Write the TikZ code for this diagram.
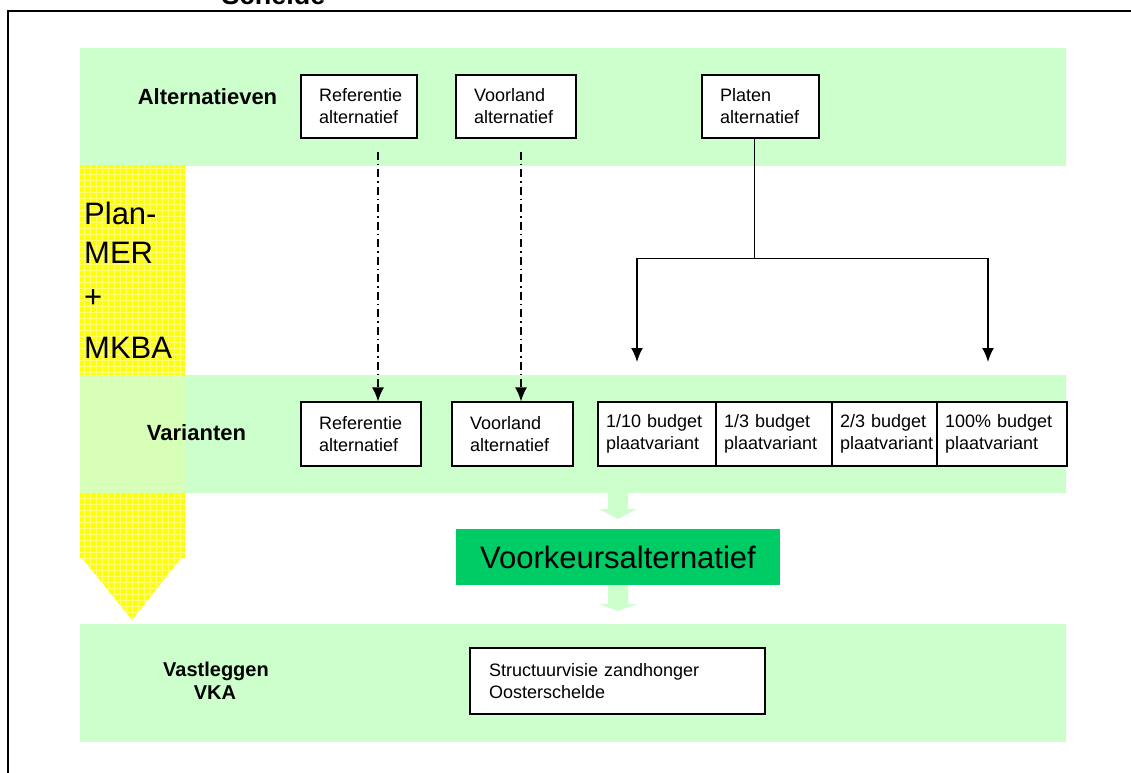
\documentclass[tikz,border=0pt]{standalone}
\usepackage{fontspec}
\setmainfont{Liberation Sans}
\usetikzlibrary{arrows.meta, positioning}

\definecolor{bandgreen}{HTML}{CCFFCC}
\definecolor{overlapgreen}{HTML}{D8FFB8}
\definecolor{vkagreen}{HTML}{00CC66}
\definecolor{planyellow}{HTML}{FFFF00}
\definecolor{gridyellow}{HTML}{FFFF70}

\begin{document}
\begin{tikzpicture}[x=1pt, y=-1pt,
    box/.style={draw, fill=white, line width=1.1pt, align=left,
      font=\fontsize{18}{22}\selectfont, inner xsep=18pt, inner ysep=0pt,
      minimum height=63pt},
    platebox/.style={box, inner xsep=8pt, minimum height=64pt},
    rowlabel/.style={font=\bfseries\fontsize{22}{24}\selectfont, align=center, inner sep=0pt},
    bigtext/.style={font=\fontsize{31}{36}\selectfont, inner sep=0pt},
    dashdot/.style={line width=1.5pt, dash pattern=on 8pt off 4pt on 1.5pt off 4pt,
      -{Latex[length=14pt,width=12pt]}},
    tree/.style={line width=1.8pt, -{Latex[length=14pt,width=12pt]}}]
  \useasboundingbox (0,0) rectangle (1131,772);

  % frame and clipped title
  \node[font=\bfseries\fontsize{27}{30}\selectfont, anchor=base, inner sep=0pt] (title) at (273.5,4) {Schelde};
  \draw[line width=1.5pt] (8,800) -- (8,11) -- (1140,11);

  % bands
  \fill[bandgreen] (80,48) rectangle (1066,166);
  \fill[bandgreen] (80,375) rectangle (1066,493);
  \fill[bandgreen] (80,624) rectangle (1066,742);

  % yellow arrow, green band over it
  \begin{scope}
    \clip (80,165) -- (185,165) -- (185,558) -- (181,558) -- (132,620)
      -- (82,558) -- (80,558) -- cycle;
    \fill[planyellow] (70,160) rectangle (190,625);
    \draw[gridyellow, line width=0.3pt, step=6pt] (70,160) grid (190,625);
    \fill[overlapgreen] (70,375) rectangle (190,493);
  \end{scope}

  % Plan-MER + MKBA
  \node[bigtext, anchor=base west] (plan) at (84,224) {Plan-};
  \node[bigtext, anchor=base west] (mer) at (84,263) {MER};
  \node[bigtext, anchor=base west] (plus) at (84,307) {+};
  \node[bigtext, anchor=base west] (mkba) at (84,358) {MKBA};

  % row labels
  \node[rowlabel, anchor=base] (alternatieven) at (207.5,104) {Alternatieven};
  \node[rowlabel, anchor=base] (varianten) at (196.5,440) {Varianten};
  \node[rowlabel, anchor=base, font=\bfseries\fontsize{20}{22}\selectfont] (vastleggen) at (216,676) {Vastleggen};
  \node[rowlabel, anchor=base, font=\bfseries\fontsize{20}{22}\selectfont] (vka) at (215,699) {VKA};

  % alternatieven
  \node[box, text width=80pt] (refalt) at (359,106.5) {Referentie\\alternatief};
  \node[box, text width=84pt] (voorlandalt) at (516,106.5) {Voorland\\alternatief};
  \node[box, text width=81pt] (platenalt) at (760.5,106.5) {Platen\\alternatief};

  % varianten
  \node[box, text width=84pt, minimum height=64pt] (refvar) at (361,434) {Referentie\\alternatief};
  \node[box, text width=85pt, minimum height=64pt] (voorlandvar) at (512.5,434) {Voorland\\alternatief};
  \node[platebox, text width=102pt] (plaat1) at (657,434) {1/10 budget\\plaatvariant};
  \node[platebox, text width=100pt] (plaat2) at (774,434) {1/3 budget\\plaatvariant};
  \node[platebox, text width=89pt] (plaat3) at (884.5,434) {2/3 budget\\plaatvariant};
  \node[platebox, text width=114pt] (plaat4) at (1002,434) {100\% budget\\plaatvariant};

  \draw[dashdot] ([xshift=19pt, yshift=-13pt]refalt.south) -- ([xshift=17pt]refvar.north);
  \draw[dashdot] ([xshift=5pt, yshift=-13pt]voorlandalt.south) -- ([xshift=8.5pt]voorlandvar.north);

  \coordinate (treeL) at (637,362);
  \coordinate (treeR) at (988,362);
  \draw[line width=1pt] ([xshift=-6.5pt]platenalt.south) -- ++(0,120) coordinate (fork);
  \draw[tree] (fork) -| (treeL);
  \draw[tree] (fork) -| (treeR);

  % voorkeursalternatief
  \node[fill=vkagreen, minimum width=324pt, minimum height=56pt, inner sep=0pt,
    font=\fontsize{31}{36}\selectfont] (voorkeur) at (618,557) {Voorkeursalternatief};
  \fill[bandgreen] (608,493) -- (628,493) -- (628,509) -- (637,509) -- (618,519)
    -- (599,509) -- (608,509) -- cycle;
  \fill[bandgreen] (608,585) -- (628,585) -- (628,604) -- (637,604) -- (618,611)
    -- (599,604) -- (608,604) -- cycle;

  % vastleggen
  \node[box, text width=257pt, minimum height=66pt, inner xsep=19pt] (structuurvisie) at (617.5,681)
    {Structuurvisie zandhonger\\Oosterschelde};
\end{tikzpicture}
\end{document}
